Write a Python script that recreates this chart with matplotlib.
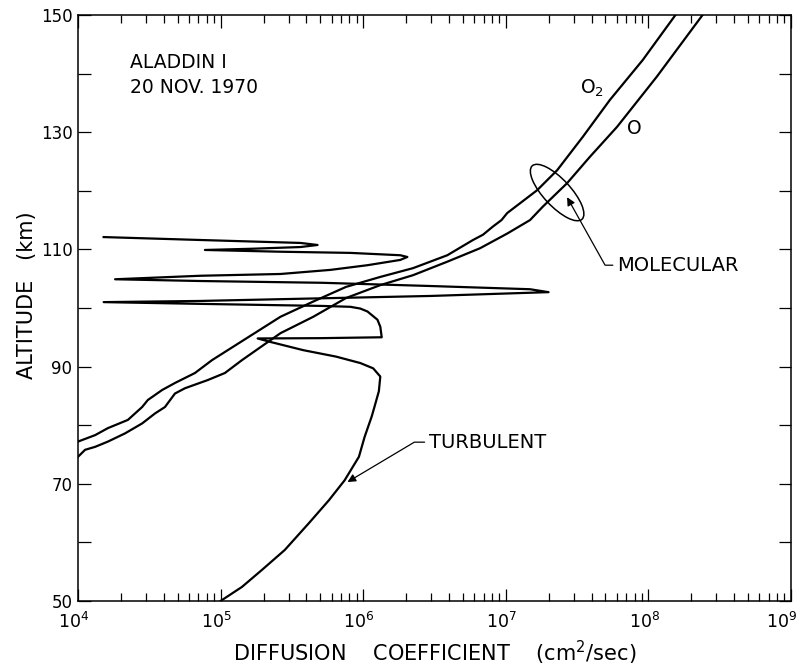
#!/usr/bin/env python3
# diffusion coefficients vs altitude, ALADDIN I
import numpy as np
import matplotlib.pyplot as plt
from matplotlib.patches import Ellipse
import matplotlib.transforms as mtransforms
from matplotlib.ticker import FixedLocator, LogLocator, NullFormatter

plt.rcParams['font.family'] = 'DejaVu Sans'
plt.rcParams['mathtext.default'] = 'regular'

# molecular diffusion, log10 D (cm^2/sec) and altitude (km)
o2_logd = [4.00, 4.12, 4.21, 4.35, 4.45, 4.49, 4.59, 4.68, 4.82, 4.94, 5.42, 5.65, 5.88, 6.12,
           6.35, 6.59, 6.77, 6.84, 6.91, 6.97, 7.01, 7.22, 7.36, 7.54, 7.73, 7.96, 8.19]
o2_alt = [77.2, 78.3, 79.5, 80.9, 83.1, 84.3, 86.0, 87.2, 88.9, 91.1, 98.5, 101.1, 103.6, 105.3,
          106.8, 109.0, 111.6, 112.5, 113.9, 115.0, 116.2, 120.1, 123.5, 129.2, 135.5, 142.3, 150.0]

o_logd = [4.00, 4.05, 4.12, 4.21, 4.33, 4.45, 4.54, 4.61, 4.68, 4.75, 4.91, 5.03, 5.15, 5.42,
          5.65, 5.88, 6.12, 6.35, 6.59, 6.82, 7.01, 7.17, 7.26, 7.43, 7.59, 7.78, 8.06, 8.38]
o_alt = [74.6, 75.8, 76.3, 77.2, 78.6, 80.3, 82.0, 83.1, 85.4, 86.3, 87.7, 88.9, 91.1, 95.7,
         98.5, 101.7, 103.9, 105.6, 107.9, 110.2, 112.7, 115.0, 117.3, 121.3, 125.8, 130.9, 139.5, 150.0]

# turbulent diffusion (one continuous trace, top to bottom)
turb_logd = [4.18, 4.86, 5.56, 5.68, 5.56, 5.21, 4.89, 5.42, 5.91, 6.26, 6.31, 6.26, 6.03, 5.77,
             5.42, 4.86, 4.26, 4.86, 5.71, 6.47, 7.17, 7.30, 7.17, 6.47, 5.42, 4.86, 4.18, 4.86,
             5.71, 5.91, 5.98, 6.03, 6.10, 6.12, 6.13, 5.70, 5.26, 5.35, 5.58, 5.81, 5.98, 6.07,
             6.12, 6.11, 6.08, 6.06, 6.01, 5.97, 5.87, 5.76, 5.62, 5.45, 5.29, 5.15, 5.00]
turb_alt = [112.1, 111.6, 111.1, 110.75, 110.4, 110.1, 109.9, 109.6, 109.4, 109.0, 108.7, 108.2,
            107.3, 106.5, 105.8, 105.5, 104.9, 104.6, 104.3, 103.75, 103.2, 102.7, 102.6, 102.05,
            101.5, 101.2, 101.0, 100.7, 100.35, 100.2, 99.9, 99.4, 98.0, 96.8, 95.0, 94.85, 94.8,
            94.2, 92.8, 91.7, 90.6, 89.7, 88.3, 85.8, 83.2, 81.5, 78.0, 74.6, 70.6, 67.2, 63.3,
            58.7, 55.3, 52.4, 50.0]

ytick_vals = [50, 60, 70, 80, 90, 100, 110, 120, 130, 140, 150]
ytick_text = ['50', '', '70', '', '90', '', '110', '', '130', '', '150']
xtick_vals = [1e4, 1e5, 1e6, 1e7, 1e8, 1e9]
xtick_text = ['$10^{4}$', '$10^{5}$', '$10^{6}$', '$10^{7}$', '$10^{8}$', '$10^{9}$']

fig = plt.figure(figsize=(8.04, 6.72), dpi=100)
ax = fig.add_axes([0.097, 0.1057, 0.8868, 0.872])

ax.plot(np.power(10.0, o2_logd), o2_alt, color='black', lw=1.6)
ax.plot(np.power(10.0, o_logd), o_alt, color='black', lw=1.6)
ax.plot(np.power(10.0, turb_logd), turb_alt, color='black', lw=1.6)

ax.set_xscale('log')
ax.set_xlim(1e4, 1e9)
ax.set_ylim(50, 150)

ax.xaxis.set_major_locator(FixedLocator(xtick_vals))
ax.set_xticklabels(xtick_text, fontsize=12.5)
ax.xaxis.set_minor_locator(LogLocator(base=10, subs=np.arange(2, 10), numticks=20))
ax.xaxis.set_minor_formatter(NullFormatter())
ax.set_yticks(ytick_vals)
ax.set_yticklabels(ytick_text, fontsize=12)

ax.tick_params(which='both', direction='in', top=True, right=True, width=0.9)
ax.tick_params(which='major', length=9)
ax.tick_params(which='minor', length=6)
ax.tick_params(axis='x', pad=8)
ax.tick_params(axis='y', pad=4)
for s in ax.spines.values():
    s.set_linewidth(1.1)

# labels sit a little left of their ticks, the last one more so
for i, lbl in enumerate(ax.get_xticklabels()):
    dx = -7 if i == len(xtick_vals) - 1 else -3
    lbl.set_transform(lbl.get_transform() + mtransforms.ScaledTranslation(dx / 72, 0, fig.dpi_scale_trans))

ax.set_xlabel('DIFFUSION    COEFFICIENT    (cm$^{2}$/sec)', fontsize=15, labelpad=5)
ax.set_ylabel('ALTITUDE   (km)', fontsize=15)
ax.yaxis.set_label_coords(-0.058, 0.522)

ax.text(0.073, 0.935, 'ALADDIN I', transform=ax.transAxes, fontsize=13.5, va='top', ha='left')
ax.text(0.073, 0.893, '20 NOV. 1970', transform=ax.transAxes, fontsize=13.5, va='top', ha='left')

ax.text(10**7.52, 137.4, 'O$_2$', fontsize=13.5, ha='left', va='center')
ax.text(10**7.85, 130.7, 'O', fontsize=13.5, ha='left', va='center')

# ellipse around the molecular curves, fixed size in inches
etrans = fig.dpi_scale_trans + mtransforms.ScaledTranslation(10**7.36, 119.7, ax.transData)
ax.add_patch(Ellipse((0, 0), 0.73, 0.27, angle=-47, transform=etrans,
                     fill=False, ec='black', lw=1.1))

ax.annotate('MOLECULAR', xy=(10**7.43, 118.9), xytext=(10**7.78, 107.3),
            fontsize=14, ha='left', va='center',
            arrowprops=dict(arrowstyle='-|>', lw=0.9, color='black', shrinkA=1, shrinkB=0,
                            relpos=(0, 0.5), mutation_scale=12,
                            connectionstyle='angle,angleA=0,angleB=-60.8,rad=0'))
ax.annotate('TURBULENT', xy=(10**5.89, 70.3), xytext=(10**6.46, 77.1),
            fontsize=14, ha='left', va='center',
            arrowprops=dict(arrowstyle='-|>', lw=0.9, color='black', shrinkA=1, shrinkB=0,
                            relpos=(0, 0.5), mutation_scale=12,
                            connectionstyle='angle,angleA=0,angleB=30.8,rad=0'))

fig.savefig('out.png', dpi=100)
